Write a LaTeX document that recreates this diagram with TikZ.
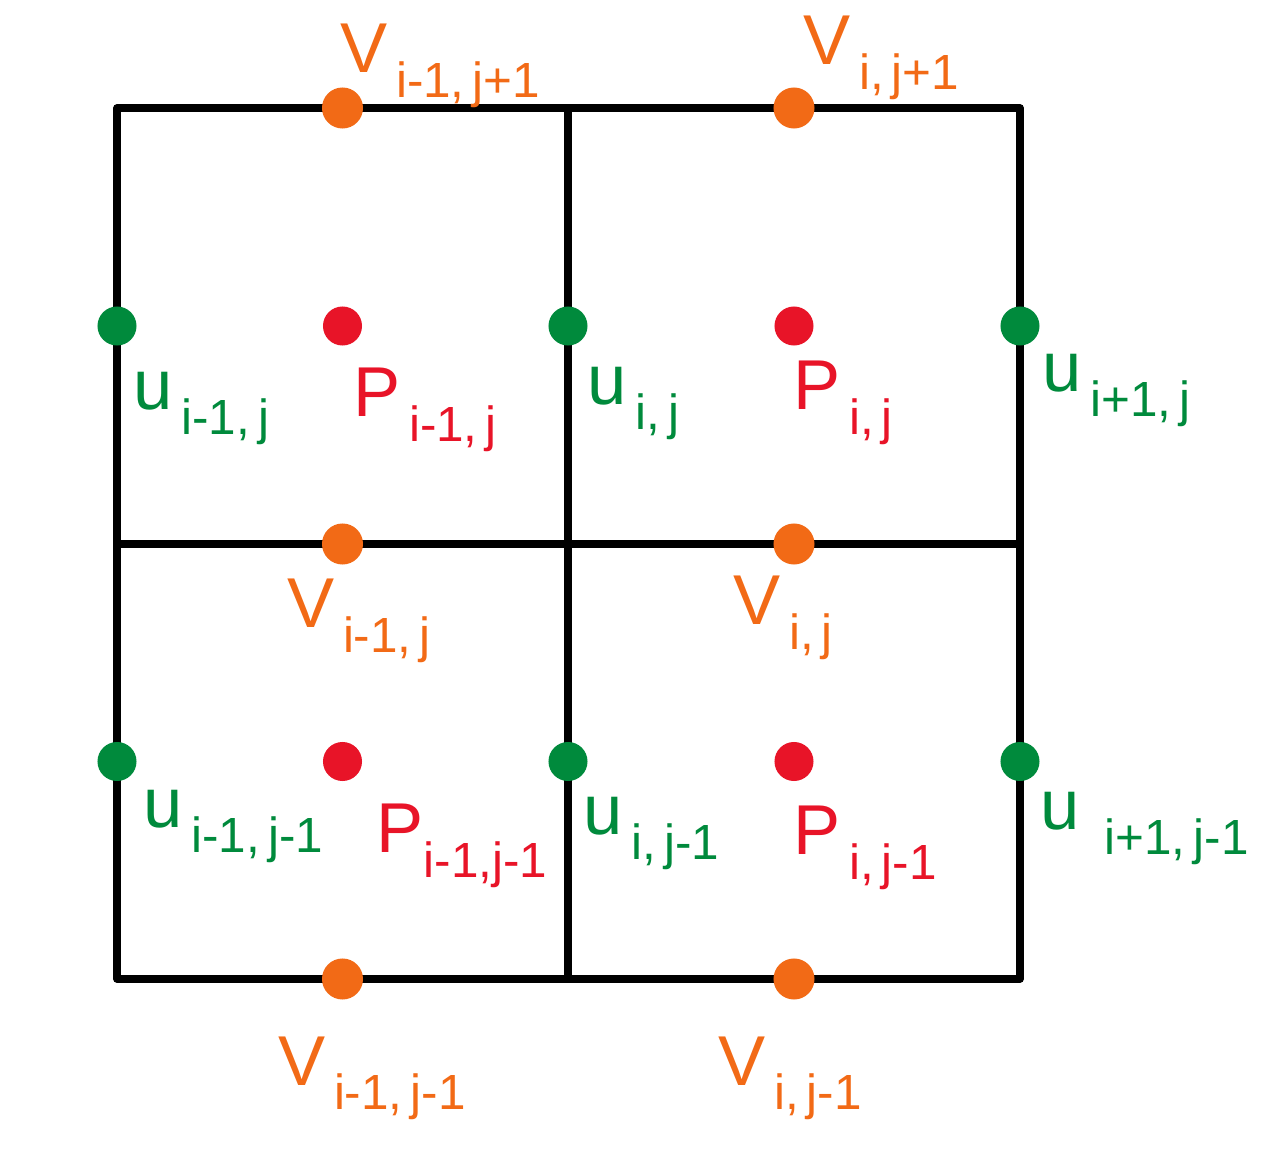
\documentclass[tikz,border=0pt]{standalone}
\usepackage{fontspec}
\setmainfont{Liberation Sans}
\usetikzlibrary{positioning}
\definecolor{mshOrange}{HTML}{F26A16}
\definecolor{mshGreen}{HTML}{008A3C}
\definecolor{mshRed}{HTML}{E81428}
% main letter, then its index set low and in a smaller size
\newcommand{\idx}[2]{#1\raisebox{-0.24cm}{\fontsize{14bp}{16bp}\selectfont\,#2}}

\begin{document}
\begin{tikzpicture}[x=0.01cm, y=-0.01cm,
  font=\fontsize{20bp}{24bp}\selectfont,
  wall/.style ={draw=black, line width=2.1pt, line cap=round, line join=round},
  vdot/.style ={circle, fill=mshOrange, inner sep=0pt, minimum size=0.41cm},
  udot/.style ={circle, fill=mshGreen, inner sep=0pt, minimum size=0.39cm},
  pdot/.style ={circle, fill=mshRed, inner sep=0pt, minimum size=0.39cm},
  vlab/.style ={text=mshOrange, inner sep=0pt, anchor=base west},
  ulab/.style ={text=mshGreen, inner sep=0pt, anchor=base west},
  plab/.style ={text=mshRed, inner sep=0pt, anchor=base west},
]
\useasboundingbox (0,0) rectangle (1284,1149);

% ---- the mesh: two by two cells, in pixel units of the sketch
\pgfmathsetmacro{\xl}{117}
\pgfmathsetmacro{\xm}{568}
\pgfmathsetmacro{\xr}{1020}
\pgfmathsetmacro{\yt}{108}
\pgfmathsetmacro{\ym}{544}
\pgfmathsetmacro{\yb}{979}
\pgfmathsetmacro{\cl}{(\xl+\xm)/2}
\pgfmathsetmacro{\cr}{(\xm+\xr)/2}
\pgfmathsetmacro{\ct}{(\yt+\ym)/2}
\pgfmathsetmacro{\cb}{(\ym+\yb)/2}

\coordinate (tl) at (\xl,\yt);
\coordinate (tm) at (\xm,\yt);
\coordinate (tr) at (\xr,\yt);
\coordinate (ml) at (\xl,\ym);
\coordinate (mr) at (\xr,\ym);
\coordinate (bl) at (\xl,\yb);
\coordinate (bm) at (\xm,\yb);
\coordinate (br) at (\xr,\yb);

\draw[wall] (tl) -- (tr) -- (br) -- (bl) -- cycle;
\draw[wall] (tm) -- (bm);
\draw[wall] (ml) -- (mr);

% ---- v on the horizontal faces
\node[vdot] (vAt) at (\cl,\yt) {};
\node[vdot] (vBt) at (\cr,\yt) {};
\node[vdot] (vAm) at (\cl,\ym) {};
\node[vdot] (vBm) at (\cr,\ym) {};
\node[vdot] (vAb) at (\cl,\yb) {};
\node[vdot] (vBb) at (\cr,\yb) {};

% ---- u on the vertical faces
\node[udot] (uLt) at (\xl,\ct) {};
\node[udot] (uMt) at (\xm,\ct) {};
\node[udot] (uRt) at (\xr,\ct) {};
\node[udot] (uLb) at (\xl,\cb) {};
\node[udot] (uMb) at (\xm,\cb) {};
\node[udot] (uRb) at (\xr,\cb) {};

% ---- p at the cell centres
\node[pdot] (pAt) at (\cl,\ct) {};
\node[pdot] (pBt) at (\cr,\ct) {};
\node[pdot] (pAb) at (\cl,\cb) {};
\node[pdot] (pBb) at (\cr,\cb) {};

% ---- labels
\node[vlab] (lvAt) at (340,73)   {\idx{V}{i-1,\,j+1}};
\node[vlab] (lvBt) at (803,65)   {\idx{V}{i,\,j+1}};
\node[vlab] (lvAm) at (287,628)  {\idx{V}{i-1,\,j}};
\node[vlab] (lvBm) at (733,625)  {\idx{V}{i,\,j}};
\node[vlab] (lvAb) at (278,1085) {\idx{V}{i-1,\,j-1}};
\node[vlab] (lvBb) at (718,1085) {\idx{V}{i,\,j-1}};

\node[ulab] (luLt) at (133,410)  {\idx{u}{i-1,\,j}};
\node[ulab] (luMt) at (587,405)  {\idx{u}{i,\,j}};
\node[ulab] (luRt) at (1042,392) {\idx{u}{i+1,\,j}};
\node[ulab] (luLb) at (143,828)  {\idx{u}{i-1,\,j-1}};
\node[ulab] (luMb) at (583,835)  {\idx{u}{i,\,j-1}};
\node[ulab] (luRb) at (1040,830) {\idx{u}{\,\,i+1,\,j-1}};

\node[plab] (lpAt) at (353,417)  {\idx{P}{i-1,\,j}};
\node[plab] (lpBt) at (793,410)  {\idx{P}{i,\,j}};
\node[plab] (lpAb) at (376,853)  {P\raisebox{-0.24cm}{\fontsize{14bp}{16bp}\selectfont i-1,j-1}};
\node[plab] (lpBb) at (793,855)  {\idx{P}{i,\,j-1}};

\end{tikzpicture}
\end{document}
